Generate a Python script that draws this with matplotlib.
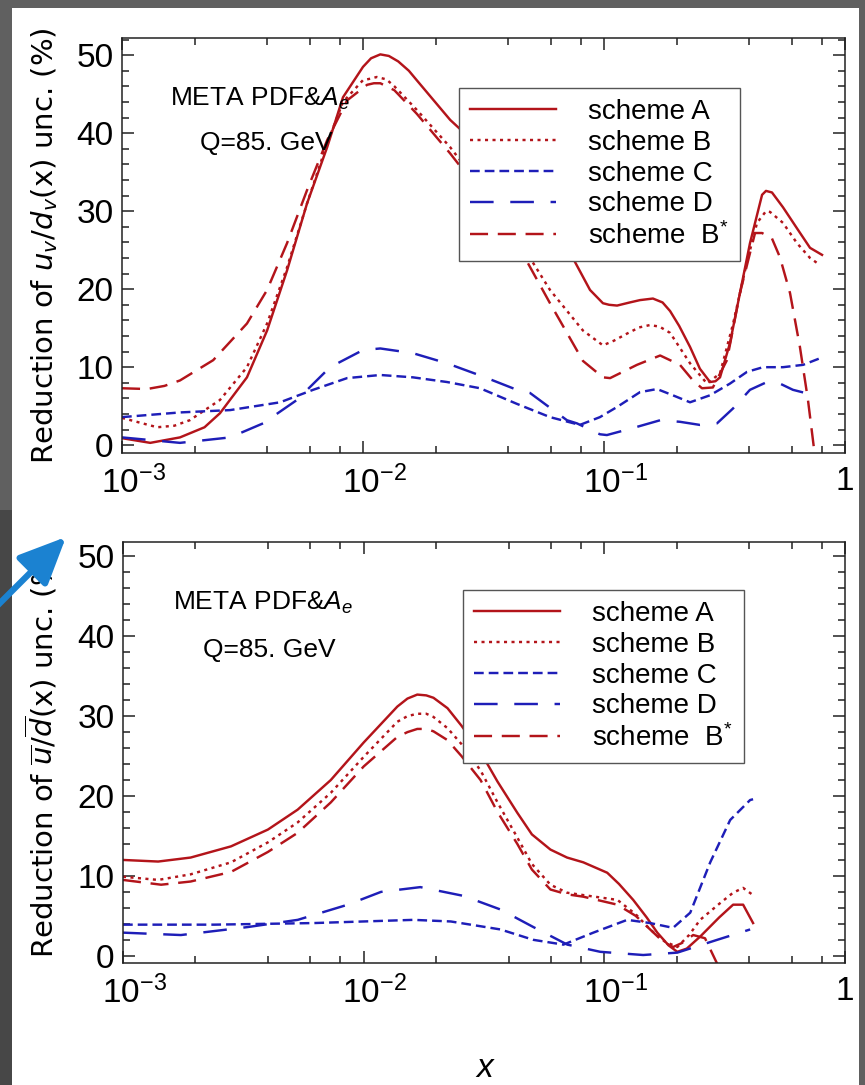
import matplotlib
matplotlib.use("Agg")
import matplotlib.pyplot as plt
from matplotlib import font_manager
from matplotlib.patches import Rectangle, FancyArrowPatch
from matplotlib.ticker import LogLocator, MultipleLocator, NullFormatter
from matplotlib.transforms import ScaledTranslation

# ---- valence ratio u_v/d_v (upper panel) ----
uv_a_x = [0.001, 0.00131, 0.00174, 0.0022, 0.00255, 0.0033, 0.0040, 0.00484, 0.00586, 0.0071,
          0.00826, 0.01, 0.0108, 0.0118, 0.0128, 0.014, 0.0155, 0.0167, 0.023, 0.0315,
          0.0435, 0.0558, 0.0702, 0.0875, 0.099, 0.105, 0.1133, 0.128, 0.141, 0.1596,
          0.175, 0.188, 0.205, 0.2275, 0.25, 0.2754, 0.29, 0.303, 0.3333, 0.3665,
          0.4034, 0.4528, 0.47, 0.4977, 0.553, 0.632, 0.716, 0.803]
uv_a = [0.9, 0.3, 1.0, 2.3, 4.1, 8.7, 14.7, 22.4, 31.0, 38.2,
        44.6, 48.5, 49.6, 50.1, 49.9, 49.2, 48.0, 46.8, 41.7, 37.8,
        34.0, 30.1, 25.4, 19.9, 18.2, 18.0, 17.9, 18.3, 18.6, 18.8,
        18.3, 17.2, 15.3, 12.6, 9.8, 8.1, 8.2, 8.7, 13.1, 19.5,
        25.9, 32.1, 32.6, 32.4, 30.5, 27.8, 25.3, 24.4]

uv_b_x = [0.001, 0.0014, 0.00165, 0.00191, 0.00255, 0.0033, 0.0040, 0.00484, 0.00586, 0.0071,
          0.00826, 0.01, 0.0108, 0.0114, 0.0125, 0.0135, 0.0167, 0.023, 0.0315, 0.0435,
          0.0597, 0.0818, 0.099, 0.11, 0.1245, 0.14, 0.155, 0.17, 0.188, 0.2275,
          0.2675, 0.303, 0.3428, 0.392, 0.4315, 0.47, 0.4887, 0.553, 0.632, 0.716,
          0.787]
uv_b = [3.5, 2.3, 2.5, 3.2, 5.8, 10.0, 15.6, 22.8, 31.0, 38.7,
        44.0, 46.8, 47.0, 47.2, 46.9, 46.0, 43.0, 38.2, 32.7, 26.7,
        19.9, 14.7, 12.8, 13.4, 14.3, 15.1, 15.4, 15.2, 14.4, 10.5,
        7.9, 9.2, 15.5, 23.5, 28.5, 30.0, 29.9, 28.5, 25.9, 24.0,
        23.1]

uv_c_x = [0.001, 0.00174, 0.00281, 0.00453, 0.00621, 0.00859, 0.0118, 0.0161, 0.0223, 0.0306,
          0.0435, 0.0597, 0.0794, 0.0962, 0.1133, 0.141, 0.166, 0.193, 0.2275, 0.2754,
          0.3333, 0.392, 0.457, 0.553, 0.67, 0.811]
uv_c = [3.6, 4.2, 4.5, 5.5, 7.1, 8.6, 9.0, 8.7, 8.1, 7.3,
        5.3, 3.6, 2.6, 3.6, 4.9, 6.8, 7.2, 6.4, 5.5, 6.4,
        7.9, 9.4, 10.0, 10.0, 10.3, 11.3]

uv_d_x = [0.001, 0.00174, 0.00281, 0.00385, 0.00532, 0.0073, 0.01, 0.0118, 0.0161, 0.0223,
          0.0315, 0.0435, 0.0493, 0.0597, 0.0702, 0.0772, 0.0962, 0.1028, 0.1318, 0.171,
          0.2066, 0.25, 0.2944, 0.3428, 0.4034, 0.4746, 0.537, 0.608, 0.683]
uv_d = [1.0, 0.3, 1.0, 2.8, 5.8, 10.0, 12.2, 12.4, 11.8, 10.5,
        8.8, 7.1, 6.7, 4.8, 3.2, 2.8, 1.4, 1.3, 2.2, 3.2,
        3.0, 2.6, 2.8, 4.7, 7.1, 8.1, 7.9, 7.1, 6.7]

uv_bs_x = [0.001, 0.00127, 0.0015, 0.00174, 0.00239, 0.0033, 0.0040, 0.00484, 0.00586, 0.0071,
           0.00859, 0.0104, 0.0111, 0.0118, 0.0135, 0.0167, 0.023, 0.0315, 0.0435, 0.0597,
           0.0818, 0.099, 0.106, 0.137, 0.171, 0.2066, 0.234, 0.255, 0.283, 0.3237,
           0.3665, 0.4233, 0.4528, 0.4977, 0.537, 0.5914, 0.65, 0.702, 0.751]
uv_bs = [7.3, 7.2, 7.6, 8.3, 10.9, 15.6, 19.9, 25.9, 32.7, 39.1,
         44.2, 46.2, 46.4, 46.4, 45.5, 42.5, 37.4, 32.0, 25.9, 18.2,
         10.8, 8.7, 8.6, 10.3, 11.5, 10.3, 8.3, 7.3, 7.4, 10.9,
         19.5, 27.2, 27.2, 26.5, 24.1, 19.5, 12.6, 5.8, -1.5]

# ---- sea ratio ubar/dbar (lower panel) ----
sea_a_x = [0.001, 0.0014, 0.00191, 0.00281, 0.0040, 0.00532, 0.0073, 0.01, 0.0138, 0.0152,
           0.0167, 0.0182, 0.0195, 0.0223, 0.0255, 0.0306, 0.036, 0.0435, 0.05, 0.0597,
           0.07, 0.0818, 0.1028, 0.115, 0.1318, 0.15, 0.166, 0.185, 0.201, 0.22,
           0.25, 0.3, 0.3428, 0.3773, 0.415]
sea_a = [12.0, 11.8, 12.3, 13.7, 15.8, 18.3, 22.0, 26.7, 31.2, 32.2,
         32.7, 32.6, 32.3, 31.0, 28.8, 25.5, 21.8, 17.9, 15.2, 13.3,
         12.3, 11.7, 10.4, 9.0, 7.0, 4.8, 2.9, 1.3, 0.5, 0.9,
         2.4, 4.8, 6.4, 6.4, 4.1]

sea_b_x = [0.001, 0.0014, 0.00191, 0.00281, 0.0040, 0.00532, 0.0073, 0.01, 0.0138, 0.0152,
           0.0167, 0.0182, 0.0195, 0.0223, 0.0255, 0.0306, 0.036, 0.0435, 0.05, 0.0597,
           0.07, 0.0818, 0.1133, 0.135, 0.155, 0.178, 0.201, 0.225, 0.25, 0.3,
           0.3428, 0.3773, 0.415]
sea_b = [9.9, 9.5, 10.2, 11.7, 14.2, 16.7, 20.4, 24.9, 29.3, 30.0,
         30.3, 30.3, 29.9, 28.5, 26.5, 23.2, 19.2, 14.8, 11.5, 8.9,
         7.9, 7.6, 7.0, 5.2, 3.3, 1.8, 1.1, 2.6, 4.5, 6.5,
         7.9, 8.5, 7.6]

sea_c_x = [0.001, 0.00239, 0.00621, 0.0161, 0.023, 0.0306, 0.037, 0.0507, 0.0676, 0.090,
           0.1245, 0.155, 0.193, 0.2275, 0.2754, 0.3333, 0.4034, 0.415]
sea_c = [3.9, 3.9, 4.1, 4.5, 4.3, 3.7, 3.3, 2.0, 1.4, 2.9,
         4.5, 4.1, 3.5, 5.4, 11.7, 17.0, 19.5, 19.6]

sea_d_x = [0.001, 0.00174, 0.0033, 0.00532, 0.00859, 0.0118, 0.0172, 0.026, 0.037, 0.0507,
           0.0702, 0.0962, 0.145, 0.201, 0.2944, 0.4034]
sea_d = [2.9, 2.6, 3.6, 4.5, 6.4, 8.0, 8.6, 7.5, 5.8, 3.6,
         1.4, 0.5, 0.1, 0.4, 2.0, 3.3]

sea_bs_x = [0.001, 0.00144, 0.00191, 0.00281, 0.0040, 0.00532, 0.0073, 0.01, 0.0138, 0.0152,
            0.0167, 0.0182, 0.0195, 0.0223, 0.0255, 0.0306, 0.036, 0.0435, 0.05, 0.0597,
            0.07, 0.0818, 0.1133, 0.135, 0.155, 0.175, 0.193, 0.21, 0.234, 0.262,
            0.2944]
sea_bs = [9.5, 8.9, 9.3, 10.5, 13.0, 15.4, 19.2, 23.7, 27.4, 28.0,
          28.4, 28.4, 28.1, 27.0, 25.0, 22.0, 18.0, 14.0, 10.8, 8.3,
          7.7, 7.4, 6.4, 5.0, 3.3, 1.8, 1.1, 1.6, 2.6, 2.2,
          -1.0]

schemes = ["scheme A", "scheme B", "scheme C", "scheme D", "scheme  B$^{*}$"]
xticks = [1e-3, 1e-2, 1e-1, 1]
xtick_labels = [r"$10^{-3}$", r"$10^{-2}$", r"$10^{-1}$", "1"]
yticks = [0, 10, 20, 30, 40, 50]

RED = "#b3141a"
BLUE = "#1e1eb8"

names = {f.name for f in font_manager.fontManager.ttflist}
num_font = "Liberation Sans Narrow" if "Liberation Sans Narrow" in names else "Liberation Sans"

plt.rcParams["font.family"] = ["Liberation Sans", "DejaVu Sans"]
plt.rcParams["mathtext.fontset"] = "custom"
plt.rcParams["mathtext.rm"] = num_font
plt.rcParams["mathtext.it"] = "Liberation Sans:italic"
plt.rcParams["mathtext.bf"] = "Liberation Sans:bold"
plt.rcParams["lines.scale_dashes"] = False

styles = {
    "scheme A": dict(color=RED, linestyle="-"),
    "scheme B": dict(color=RED, linestyle=(0, (2.2, 3.2))),
    "scheme C": dict(color=BLUE, linestyle=(0, (7.0, 3.6))),
    "scheme D": dict(color=BLUE, linestyle=(0, (17, 12))),
    "scheme  B$^{*}$": dict(color=RED, linestyle=(0, (13, 7))),
}

W, H = 865, 1085
fig = plt.figure(figsize=(W / 100, H / 100), dpi=100, facecolor="#606060")
fig.add_artist(Rectangle((12 / W, 0), 847 / W, 1 - 8 / H, transform=fig.transFigure,
                         fc="white", ec="none", zorder=-2))
fig.add_artist(Rectangle((0, 0), 12 / W, 575 / H, transform=fig.transFigure,
                         fc="#474747", ec="none", zorder=-2))

ax1 = fig.add_axes([122 / W, 1 - 453 / H, 723 / W, 415 / H])
ax2 = fig.add_axes([123 / W, 1 - 963 / H, 722 / W, 421 / H])


def draw_panel(ax, curves, ylim, ylabel, leg_xy, meta_xy, q_xy):
    for name in schemes:
        xs, ys = curves[name]
        ax.plot(xs, ys, lw=1.75, label=name, solid_joinstyle="round",
                dash_joinstyle="round", **styles[name])
    ax.set_xscale("log")
    ax.set_xlim(1e-3, 1)
    ax.set_ylim(*ylim)
    ax.set_xticks(xticks, xtick_labels)
    ax.xaxis.set_minor_locator(LogLocator(base=10, subs=(2, 4, 6, 8)))
    ax.xaxis.set_minor_formatter(NullFormatter())
    ax.set_yticks(yticks)
    ax.yaxis.set_minor_locator(MultipleLocator(2))
    ax.tick_params(which="both", direction="in", top=True, right=True, width=1.1,
                   color="#222222")
    ax.tick_params(which="major", length=8.5)
    ax.tick_params(which="minor", length=5)
    ax.tick_params(axis="y", labelsize=24, pad=6)
    ax.tick_params(axis="x", labelsize=24, pad=9)
    for lab in ax.get_yticklabels():
        lab.set_fontfamily(num_font)
    for lab in ax.get_xticklabels():
        lab.set_fontfamily(num_font)
    # powers of ten sit a little right of their tick
    for lab in ax.get_xticklabels()[:3]:
        lab.set_transform(lab.get_transform() + ScaledTranslation(0.11, 0, fig.dpi_scale_trans))
    for sp in ax.spines.values():
        sp.set_linewidth(1.1)
        sp.set_color("#222222")

    ax.set_ylabel(ylabel, fontsize=21, family="DejaVu Sans", math_fontfamily="dejavusans")
    ax.yaxis.set_label_coords(leg_xy[2], 0.5)

    ax.text(meta_xy[0], meta_xy[1], r"META PDF&$A_e$", transform=ax.transAxes,
            fontsize=19, va="baseline", ha="left")
    ax.text(q_xy[0], q_xy[1], "Q=85. GeV", transform=ax.transAxes,
            fontsize=19, va="baseline", ha="left")

    leg = ax.legend(loc="upper left", bbox_to_anchor=(leg_xy[0], leg_xy[1]),
                    fontsize=20, handlelength=3.1, handletextpad=1.15, labelspacing=0.17,
                    borderpad=0.4, borderaxespad=0, fancybox=False, framealpha=1,
                    edgecolor="#555555")
    leg.get_frame().set_linewidth(1.0)


uv_curves = {
    "scheme A": (uv_a_x, uv_a),
    "scheme B": (uv_b_x, uv_b),
    "scheme C": (uv_c_x, uv_c),
    "scheme D": (uv_d_x, uv_d),
    "scheme  B$^{*}$": (uv_bs_x, uv_bs),
}
sea_curves = {
    "scheme A": (sea_a_x, sea_a),
    "scheme B": (sea_b_x, sea_b),
    "scheme C": (sea_c_x, sea_c),
    "scheme D": (sea_d_x, sea_d),
    "scheme  B$^{*}$": (sea_bs_x, sea_bs),
}

draw_panel(ax1, uv_curves, (-1.0, 52.2), r"Reduction of $u_v/d_v$(x) unc. (%)",
           (0.466, 0.8795, -0.0858), (0.0664, 0.836), (0.108, 0.730))
draw_panel(ax2, sea_curves, (-0.9, 51.8),
           r"Reduction of $\overline{u}/\overline{d}$(x) unc. (%)",
           (0.471, 0.886, -0.0873), (0.069, 0.838), (0.111, 0.727))

fig.text(485 / W, 1 - 1077 / H, "x", fontsize=24, style="italic", ha="center",
         va="baseline")

fig.add_artist(FancyArrowPatch((-4 / W, 1 - 607 / H), (66 / W, 1 - 537 / H),
                               transform=fig.transFigure,
                               arrowstyle="-|>,head_length=0.4,head_width=0.18",
                               mutation_scale=72, lw=4.5, color="#1b82d1",
                               shrinkA=0, shrinkB=0, zorder=5))

fig.savefig("out.png", dpi=100, facecolor=fig.get_facecolor())
